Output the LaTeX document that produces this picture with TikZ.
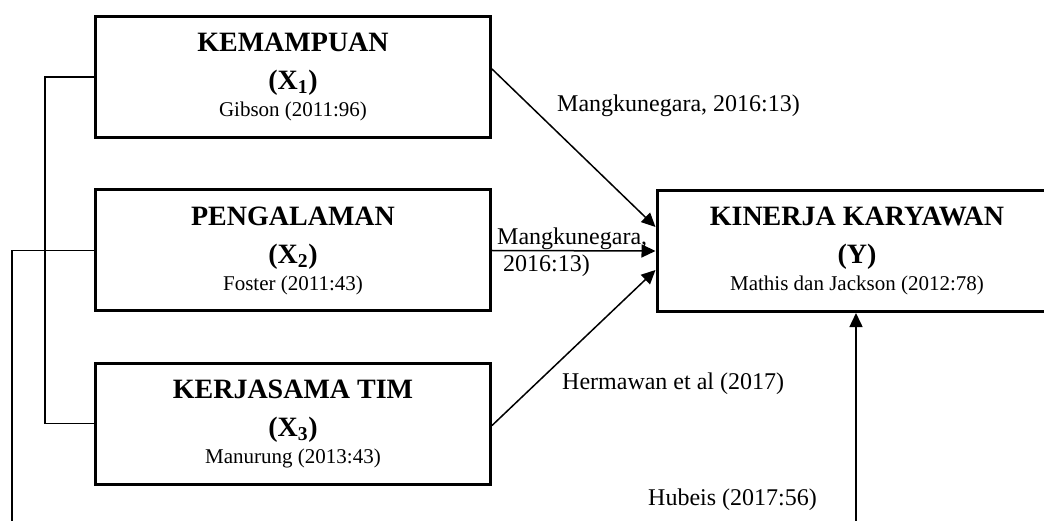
\documentclass[tikz,border=0pt]{standalone}
\usepackage{fontspec}
\setmainfont{Liberation Serif}
\usetikzlibrary{arrows.meta,positioning}
\newcommand{\ttlfont}{\fontsize{28}{38}\selectfont\bfseries}
\newcommand{\srcfont}{\fontsize{21}{27}\selectfont\mdseries}

\begin{document}
\begin{tikzpicture}[x=1pt,y=-1pt,>={Triangle[length=14pt,width=13pt]},
 var/.style={draw,line width=3pt,minimum width=395pt,minimum height=121pt,align=center,inner sep=0pt,font=\ttlfont},
 cite/.style={font=\fontsize{24}{27}\selectfont,inner sep=0pt},
 conn/.style={line width=1.5pt}]
\useasboundingbox (0,0) rectangle (1044,521);
\clip (0,0) rectangle (1044,521);
\node[var] (x1) at (293,77) {KEMAMPUAN\\(X\textsubscript{1})\\[-11pt]\srcfont Gibson (2011:96)};
\node[var] (x2) at (293,250.5) {PENGALAMAN\\(X\textsubscript{2})\\[-11pt]\srcfont Foster (2011:43)};
\node[var] (x3) at (293,423.5) {KERJASAMA TIM\\(X\textsubscript{3})\\[-11pt]\srcfont Manurung (2013:43)};
\node[var,minimum width=400pt] (y) at (857,251) {KINERJA KARYAWAN\\(Y)\\[-11pt]\srcfont Mathis dan Jackson (2012:78)};
\node[cite,anchor=base west] (c1) at (557,112) {Mangkunegara, 2016:13)};
\node[cite,anchor=base west,align=left] (c2) at (497,272) {Mangkunegara,\\\hspace{6pt}2016:13)};
\node[cite,anchor=base west] (c3) at (562,389) {Hermawan et al (2017)};
\node[cite,anchor=base west] (c4) at (648,505) {Hubeis (2017:56)};
\coordinate (low) at (12,560);
\draw[conn,->] ([yshift=8pt]x1.east) -- ([yshift=24pt]y.west);
\draw[conn,->] (x2.east) -- (y.west);
\draw[conn,->] ([yshift=-2pt]x3.east) -- ([yshift=-19pt]y.west);
\draw[conn] (x1.west) -- ++(-49,0) |- (x3.west);
\draw[conn,->] (x2.west) -| (low) -| ([xshift=-1pt]y.south);
\end{tikzpicture}
\end{document}
